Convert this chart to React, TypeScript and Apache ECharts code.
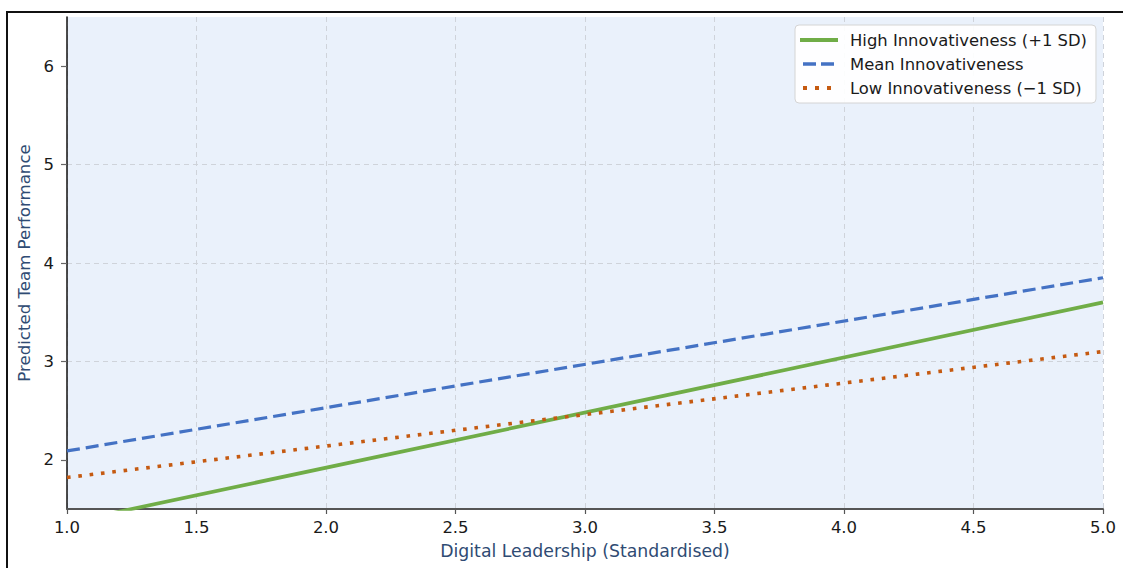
import React, { useEffect, useRef } from "react";
import * as echarts from "echarts";

const xEnds = [1.0, 5.0];
const highInnov = [1.36, 3.6];
const meanInnov = [2.09, 3.85];
const lowInnov = [1.82, 3.1];
const seriesNames = [
  "High Innovativeness (+1 SD)",
  "Mean Innovativeness",
  "Low Innovativeness (\u22121 SD)",
];
const yTickValues = [2, 3, 4, 5, 6];

const FONT = "DejaVu Sans";
const GREEN = "#70ad47";
const BLUE = "#4472c4";
const ORANGE = "#c55a11";

export default function App() {
  const ref = useRef<HTMLDivElement>(null);
  useEffect(() => {
    document.body.style.margin = "0";
    const chart = echarts.init(ref.current!, null, { renderer: "svg" });
    const pts = (ys: number[]) => xEnds.map((x, i) => [x, ys[i]]);
    chart.setOption({
      animation: false,
      textStyle: { fontFamily: FONT },
      graphic: [
        {
          type: "rect",
          shape: { x: 7, y: 12, width: 1200, height: 700 },
          style: { fill: "none", stroke: "#111", lineWidth: 2 },
          z: 100,
          silent: true,
        },
      ],
      grid: {
        left: 67,
        top: 17,
        right: 20,
        bottom: 59,
        show: true,
        backgroundColor: "#eaf1fb",
        borderWidth: 0,
      },
      legend: {
        orient: "vertical",
        left: 795,
        top: 25,
        padding: [5, 9, 5, 3],
        itemWidth: 38,
        itemHeight: 12,
        itemGap: 4,
        backgroundColor: "rgba(255,255,255,0.92)",
        borderColor: "#d4d4d4",
        borderWidth: 1,
        borderRadius: 4,
        itemStyle: { opacity: 0 },
        textStyle: {
          fontFamily: FONT,
          fontSize: 16.4,
          color: "#1a1a1a",
          lineHeight: 20,
          padding: [0, 0, 0, 7],
        },
        data: [
          {
            name: seriesNames[0],
            lineStyle: { color: GREEN, width: 4, type: "solid" },
            itemStyle: { opacity: 0 },
          },
          {
            name: seriesNames[1],
            lineStyle: { color: BLUE, width: 3.5, type: [13, 5], dashOffset: -3 },
            itemStyle: { opacity: 0 },
          },
          {
            name: seriesNames[2],
            lineStyle: { color: ORANGE, width: 4, type: [4, 8], dashOffset: -3, cap: "butt" },
            itemStyle: { opacity: 0 },
          },
        ],
      },
      xAxis: {
        type: "value",
        min: 1,
        max: 5,
        interval: 0.5,
        name: "Digital Leadership (Standardised)",
        nameLocation: "middle",
        nameGap: 33,
        nameTextStyle: { fontFamily: FONT, fontSize: 17.3, color: "#2f4b73" },
        axisLine: { show: true, lineStyle: { color: "#555", width: 2 } },
        axisTick: { show: true, length: 5, lineStyle: { color: "#555", width: 1.2 } },
        axisLabel: {
          margin: 10,
          fontFamily: FONT,
          fontSize: 16.5,
          color: "#1a1a1a",
          formatter: (v: number) => v.toFixed(1),
        },
        splitLine: {
          show: true,
          lineStyle: { color: "#cfd3da", type: [5, 4], width: 1 },
        },
      },
      yAxis: {
        type: "value",
        min: 1.5,
        max: 6.5,
        splitNumber: 5,
        name: "Predicted Team Performance",
        nameLocation: "middle",
        nameGap: 33,
        nameTextStyle: { fontFamily: FONT, fontSize: 16.6, color: "#2f4b73" },
        axisLine: { show: true, lineStyle: { color: "#111", width: 1.5 } },
        axisTick: {
          show: true,
          length: 6,
          customValues: yTickValues,
          lineStyle: { color: "#666", width: 1.2 },
        },
        axisLabel: {
          margin: 13,
          fontFamily: FONT,
          fontSize: 16.5,
          color: "#1a1a1a",
          customValues: yTickValues,
          formatter: (v: number) => String(v),
        },
        splitLine: {
          show: true,
          showMinLine: false,
          showMaxLine: false,
          lineStyle: { color: "#cfd3da", type: [5, 4], width: 1 },
        },
      },
      series: [
        {
          name: seriesNames[0],
          type: "line",
          data: pts(highInnov),
          showSymbol: false,
          symbol: "none",
          clip: true,
          lineStyle: { color: GREEN, width: 3.7 },
          itemStyle: { color: GREEN },
        },
        {
          name: seriesNames[1],
          type: "line",
          data: pts(meanInnov),
          showSymbol: false,
          symbol: "none",
          clip: true,
          lineStyle: { color: BLUE, width: 3.2, type: [13, 6] },
          itemStyle: { color: BLUE },
        },
        {
          name: seriesNames[2],
          type: "line",
          data: pts(lowInnov),
          showSymbol: false,
          symbol: "none",
          clip: true,
          lineStyle: { color: ORANGE, width: 3.6, type: [3.6, 7.8], cap: "butt" },
          itemStyle: { color: ORANGE },
        },
      ],
    });
    return () => chart.dispose();
  }, []);
  return <div ref={ref} style={{ width: 1123, height: 568 }} />;
}
